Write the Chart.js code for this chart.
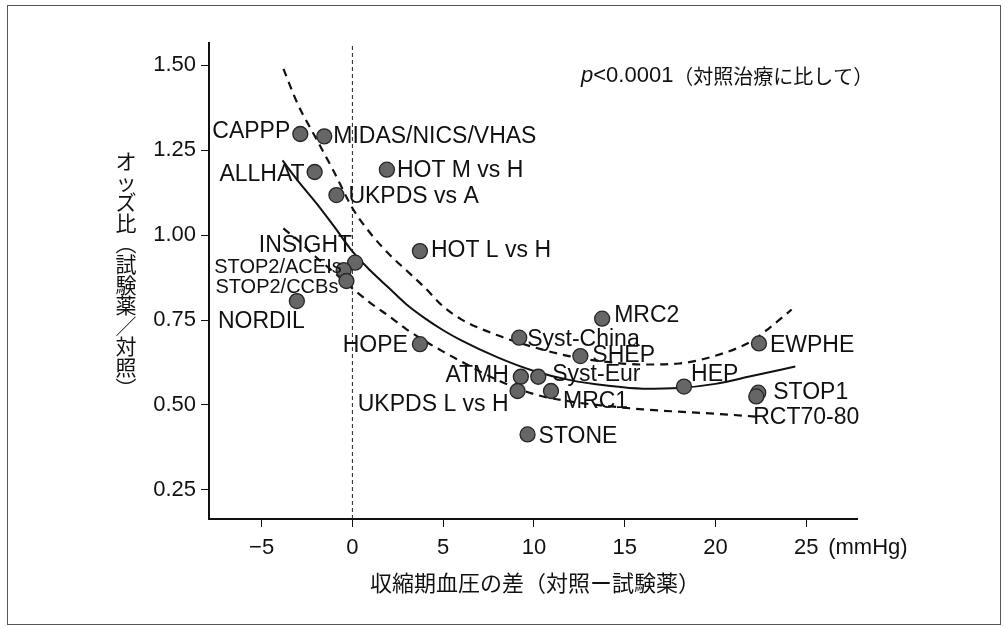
<!DOCTYPE html>
<html lang="ja">
<head>
<meta charset="utf-8">
<title>オッズ比と収縮期血圧の差</title>
<script src="https://cdn.jsdelivr.net/npm/chart.js@4.4.1/dist/chart.umd.min.js"></script>
<style>
  html, body { margin: 0; padding: 0; background: #fff; }
  #wrap { position: relative; width: 1007px; height: 628px; }
</style>
</head>
<body>
<div id="wrap"><canvas id="chart"></canvas></div>
<script>
// ============================================
// DATA
// ============================================
const studies = ['CAPPP', 'MIDAS/NICS/VHAS', 'ALLHAT', 'HOT M vs H', 'UKPDS vs A',
  'INSIGHT', 'STOP2/ACEIs', 'STOP2/CCBs', 'NORDIL', 'HOT L vs H', 'HOPE',
  'Syst-China', 'MRC2', 'SHEP', 'ATMH', 'Syst-Eur', 'UKPDS L vs H', 'MRC1',
  'STONE', 'HEP', 'EWPHE', 'STOP1', 'RCT70-80'];
const bpDiff = [-2.87, -1.55, -2.08, 1.9, -0.88,
  0.15, -0.48, -0.33, -3.06, 3.72, 3.72,
  9.19, 13.76, 12.56, 9.28, 10.24, 9.1, 10.94,
  9.65, 18.27, 22.4, 22.36, 22.25];
const oddsRatio = [1.298, 1.291, 1.186, 1.193, 1.118,
  0.919, 0.897, 0.865, 0.806, 0.953, 0.679,
  0.698, 0.754, 0.644, 0.583, 0.583, 0.541, 0.541,
  0.413, 0.554, 0.681, 0.536, 0.525];

// regression curve, read along x
const fitX = [-3.85, -3, -2, -1, 0, 1, 2, 3, 4, 5, 6, 8, 10, 12, 14, 16, 18, 20, 22, 24.4];
const fitY = [1.22, 1.16, 1.095, 1.025, 0.952, 0.895, 0.845, 0.795, 0.755, 0.72, 0.69,
  0.64, 0.60, 0.573, 0.557, 0.548, 0.55, 0.562, 0.585, 0.613];

// upper / lower dashed band
const upperX = [-3.8, -3, -2, -1, 0, 1, 2, 3, 4, 5, 6, 8, 10, 12, 14, 16, 18, 20, 22, 23, 24.2];
const upperY = [1.49, 1.385, 1.285, 1.185, 1.08, 1.005, 0.945, 0.895, 0.845, 0.79, 0.752,
  0.705, 0.67, 0.643, 0.627, 0.619, 0.622, 0.645, 0.688, 0.728, 0.781];
const lowerX = [-3.8, -3, -2, -1, 0, 1, 2, 3, 4, 5, 6, 8, 10, 12, 14, 16, 18, 20, 22.4];
const lowerY = [1.02, 0.985, 0.935, 0.89, 0.843, 0.80, 0.762, 0.722, 0.688, 0.657, 0.628,
  0.573, 0.532, 0.51, 0.497, 0.487, 0.48, 0.474, 0.465];

const xTicks = [-5, 0, 5, 10, 15, 20, 25];
const yTicks = [0.25, 0.50, 0.75, 1.00, 1.25, 1.50];
const xRange = [-7.9, 27.8];
const yRange = [0.164, 1.566];

// ============================================
// STYLE
// ============================================
const LATIN = '"Liberation Sans", Arial, Helvetica, sans-serif';
const CJK = '"Noto Sans CJK JP", "Noto Sans", sans-serif';
const INK = '#111';

// label placement relative to its dot: [align, dx, dy, size]
const labelPos = {
  'CAPPP': ['right', -10, -2, 23],
  'MIDAS/NICS/VHAS': ['left', 9, 0, 23],
  'ALLHAT': ['right', -10, 3, 23],
  'HOT M vs H': ['left', 10, 1, 23],
  'UKPDS vs A': ['left', 12, 2, 23],
  'INSIGHT': ['right', -3, -17, 23],
  'STOP2/ACEIs': ['right', -2, -3, 20],
  'STOP2/CCBs': ['right', -8, 6, 20],
  'NORDIL': ['right', 8, 21, 23],
  'HOT L vs H': ['left', 11, 0, 23],
  'HOPE': ['right', -12, 2, 23],
  'Syst-China': ['left', 8, 2, 23],
  'MRC2': ['left', 12, -3, 23],
  'SHEP': ['left', 12, 0, 23],
  'ATMH': ['right', -12, -1, 23],
  'Syst-Eur': ['left', 14, -2, 23],
  'UKPDS L vs H': ['right', -9, 14, 23],
  'MRC1': ['left', 12, 11, 23],
  'STONE': ['left', 11, 2, 23],
  'HEP': ['left', 7, -12, 23],
  'EWPHE': ['left', 11, 2, 23],
  'STOP1': ['left', 15, 0, 23],
  'RCT70-80': ['left', -3, 21, 23]
};

const toPts = (xs, ys) => xs.map((x, i) => ({ x: x, y: ys[i] }));

// ============================================
// PLUGINS
// ============================================
const framePlugin = {
  id: 'frame',
  beforeDraw(chart) {
    const ctx = chart.ctx;
    ctx.save();
    ctx.fillStyle = '#fff';
    ctx.fillRect(0, 0, chart.width, chart.height);
    ctx.strokeStyle = '#555';
    ctx.lineWidth = 1;
    ctx.strokeRect(7.5, 5.5, 993, 619);
    ctx.restore();
  }
};

const pointLabels = {
  id: 'pointLabels',
  afterDatasetsDraw(chart) {
    const ctx = chart.ctx;
    const meta = chart.getDatasetMeta(0);
    ctx.save();
    ctx.fillStyle = INK;
    ctx.textBaseline = 'middle';
    meta.data.forEach((el, i) => {
      const name = studies[i];
      const p = labelPos[name] || ['left', 10, 0, 23];
      ctx.font = p[3] + 'px ' + LATIN;
      ctx.textAlign = p[0];
      ctx.fillText(name, el.x + p[1], el.y + p[2]);
    });
    ctx.restore();
  }
};

const extras = {
  id: 'extras',
  afterDraw(chart) {
    const ctx = chart.ctx;
    const xs = chart.scales.x;
    ctx.save();
    ctx.fillStyle = INK;
    ctx.textBaseline = 'middle';

    // unit after the last x tick
    ctx.font = '22px ' + LATIN;
    ctx.textAlign = 'left';
    ctx.fillText('(mmHg)', xs.getPixelForValue(25) + 22, 548);

    // x title
    ctx.font = '22px ' + CJK;
    ctx.textAlign = 'center';
    ctx.fillText('収縮期血圧の差（対照ー試験薬）', 535, 583);

    // y title, written vertically
    const chars = ['オ', 'ッ', 'ズ', '比', '︵', '試', '験', '薬', '／', '対', '照', '︶'];
    ctx.font = '21px ' + CJK;
    chars.forEach((c, i) => ctx.fillText(c, 126, 161 + i * 20.6));

    // p value note
    let x = 581;
    const y = 76;
    ctx.textAlign = 'left';
    ctx.font = 'italic 22px ' + LATIN;
    ctx.fillText('p', x, y);
    x += ctx.measureText('p').width;
    ctx.font = '22px ' + LATIN;
    ctx.fillText('<0.0001', x, y);
    x += ctx.measureText('<0.0001').width;
    ctx.font = '20px ' + CJK;
    ctx.fillText('（対照治療に比して）', x, y);
    ctx.restore();
  }
};

// ============================================
// CHART
// ============================================
Chart.defaults.font.family = LATIN;
Chart.defaults.color = INK;

new Chart(document.getElementById('chart'), {
  type: 'scatter',
  data: {
    datasets: [
      {
        label: 'studies',
        data: toPts(bpDiff, oddsRatio),
        pointRadius: 7.5,
        pointHoverRadius: 7.5,
        backgroundColor: '#666',
        borderColor: '#262626',
        borderWidth: 1.3,
        order: 0
      },
      {
        label: 'fit',
        data: toPts(fitX, fitY),
        showLine: true,
        pointRadius: 0,
        borderColor: '#111',
        borderWidth: 2,
        cubicInterpolationMode: 'monotone',
        order: 1
      },
      {
        label: 'upper',
        data: toPts(upperX, upperY),
        showLine: true,
        pointRadius: 0,
        borderColor: '#111',
        borderWidth: 2.2,
        borderDash: [8, 6],
        cubicInterpolationMode: 'monotone',
        order: 1
      },
      {
        label: 'lower',
        data: toPts(lowerX, lowerY),
        showLine: true,
        pointRadius: 0,
        borderColor: '#111',
        borderWidth: 2.2,
        borderDash: [8, 6],
        cubicInterpolationMode: 'monotone',
        order: 1
      },
      {
        label: 'zero',
        data: [{ x: 0, y: yRange[0] }, { x: 0, y: yRange[1] }],
        showLine: true,
        pointRadius: 0,
        borderColor: '#222',
        borderWidth: 1,
        borderDash: [4, 3],
        order: 2
      }
    ]
  },
  options: {
    responsive: true,
    maintainAspectRatio: false,
    animation: false,
    devicePixelRatio: 1,
    layout: { padding: { left: 0, top: 43, right: 150, bottom: 0 } },
    plugins: {
      legend: { display: false },
      tooltip: { enabled: false }
    },
    scales: {
      x: {
        type: 'linear',
        min: xRange[0],
        max: xRange[1],
        afterBuildTicks(scale) { scale.ticks = xTicks.map(v => ({ value: v })); },
        afterFit(scale) { scale.height = 109; },
        ticks: {
          font: { size: 22 },
          color: INK,
          padding: 8,
          maxRotation: 0,
          callback: v => (v < 0 ? '\u2212' + Math.abs(v) : String(v))
        },
        grid: { drawOnChartArea: false, drawTicks: true, tickLength: 8, color: '#111', lineWidth: 1 },
        border: { display: true, color: '#111', width: 2 }
      },
      y: {
        type: 'linear',
        min: yRange[0],
        max: yRange[1],
        afterBuildTicks(scale) { scale.ticks = yTicks.map(v => ({ value: v })); },
        afterFit(scale) { scale.width = 209; },
        ticks: {
          font: { size: 22 },
          color: INK,
          padding: 5,
          callback: v => v.toFixed(2)
        },
        grid: { drawOnChartArea: false, drawTicks: true, tickLength: 8, color: '#111', lineWidth: 1 },
        border: { display: true, color: '#111', width: 2 }
      }
    }
  },
  plugins: [framePlugin, pointLabels, extras]
});
</script>
</body>
</html>
